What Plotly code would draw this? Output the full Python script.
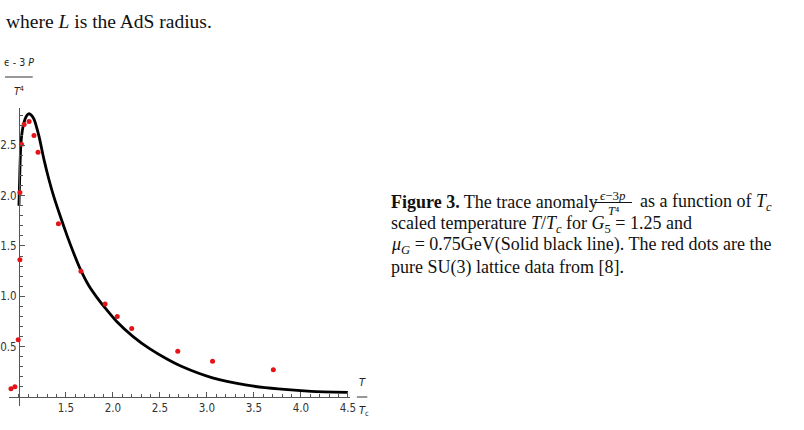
import plotly.graph_objects as go

W, H = 804, 430

# ---- data ----
lattice_x = [0.915, 0.957, 0.992, 1.01, 1.01, 1.027, 1.055, 1.108, 1.16, 1.203,
             1.42, 1.66, 1.917, 2.046, 2.20, 2.69, 3.06, 3.707]
lattice_y = [0.083, 0.103, 0.57, 1.364, 2.03, 2.51, 2.705, 2.735, 2.596, 2.43,
             1.72, 1.25, 0.925, 0.80, 0.68, 0.454, 0.355, 0.27]

curve_x = [1.0, 1.01, 1.02, 1.035, 1.055, 1.08, 1.108, 1.13, 1.16, 1.213, 1.266,
           1.319, 1.371, 1.442, 1.513, 1.582, 1.653, 1.741, 1.829, 1.93, 2.04,
           2.215, 2.39, 2.57, 2.74, 3.06, 3.41, 3.76, 4.11, 4.5]
curve_y = [1.90, 2.25, 2.50, 2.64, 2.73, 2.79, 2.815, 2.80, 2.76, 2.59, 2.36,
           2.16, 1.99, 1.79, 1.60, 1.43, 1.27, 1.11, 0.99, 0.87, 0.75,
           0.60, 0.48, 0.38, 0.30, 0.19, 0.12, 0.08, 0.057, 0.047]

x_ticks = [1.5, 2.0, 2.5, 3.0, 3.5, 4.0, 4.5]
y_ticks = [0.5, 1.0, 1.5, 2.0, 2.5]
x_tick_text = ["1.5", "2.0", "2.5", "3.0", "3.5", "4.0", "4.5"]
y_tick_text = ["0.5", "1.0", "1.5", "2.0", "2.5"]

x_range = [0.8935, 4.522]
y_range = [-0.089, 2.87]
axes_origin = (1.0, 0.0)

# ---- layout geometry (pixels) ----
plot_left, plot_right = 8, 352
plot_top, plot_bottom = 108, 406
x_dom = [plot_left / W, plot_right / W]
y_dom = [1 - plot_bottom / H, 1 - plot_top / H]

def px(fx):
    return fx / W

def py(fy):
    return 1 - fy / H

# axes crossing positions in paper coords
xaxis_pos = y_dom[0] + (axes_origin[1] - y_range[0]) / (y_range[1] - y_range[0]) * (y_dom[1] - y_dom[0])
yaxis_pos = x_dom[0] + (axes_origin[0] - x_range[0]) / (x_range[1] - x_range[0]) * (x_dom[1] - x_dom[0])

NARROW = "Liberation Sans Narrow, Arial Narrow, DejaVu Sans Condensed, sans-serif"
TICK_FONT = dict(family=NARROW, size=11.5, color="#333")
SERIF = "Liberation Serif, Times New Roman, serif"
AX_COL = "#555"

fig = go.Figure()
fig.add_trace(go.Scatter(x=curve_x, y=curve_y, mode="lines",
                         line=dict(color="black", width=2.8, shape="spline", smoothing=0.6),
                         cliponaxis=False, hoverinfo="skip"))
fig.add_trace(go.Scatter(x=lattice_x, y=lattice_y, mode="markers",
                         marker=dict(color="rgb(228,20,24)", size=5),
                         cliponaxis=False, hoverinfo="skip"))

axis_common = dict(showgrid=False, zeroline=False, showline=True, linecolor=AX_COL,
                   linewidth=1, ticks="inside", ticklen=5, tickcolor=AX_COL,
                   tickwidth=1, tickfont=TICK_FONT, tickmode="array",
                   anchor="free", fixedrange=True)

fig.update_layout(
    width=W, height=H, margin=dict(l=0, r=0, t=0, b=0),
    paper_bgcolor="white", plot_bgcolor="white", showlegend=False,
    xaxis=dict(domain=x_dom, range=x_range, position=xaxis_pos,
               tickvals=x_ticks, ticktext=x_tick_text,
               minor=dict(dtick=0.1, tick0=0, ticks="inside", ticklen=3,
                          tickcolor=AX_COL, tickwidth=1),
               **axis_common),
    yaxis=dict(domain=y_dom, range=y_range, position=yaxis_pos,
               tickvals=y_ticks, ticktext=y_tick_text,
               minor=dict(dtick=0.1, tick0=0, ticks="inside", ticklen=3,
                          tickcolor=AX_COL, tickwidth=1),
               **axis_common),
)

ann = []
def text(x, y, t, size, family=SERIF, xanchor="left", color="#111"):
    ann.append(dict(x=px(x), y=py(y), xref="paper", yref="paper", text=t,
                    showarrow=False, xanchor=xanchor, yanchor="middle",
                    font=dict(family=family, size=size, color=color)))

# top text
text(3, 22, "where <i>L</i> is the AdS radius.", 19.5)

# axis labels
text(18, 62, "ϵ - 3 <i>P</i>", 10.5, family=NARROW, xanchor="center", color="#222")
text(18, 91, "<i>T</i><sup>4</sup>", 10.5, family=NARROW, xanchor="center", color="#222")
text(365, 382, "<i>T</i>", 11, family=NARROW, xanchor="center", color="#222")
text(366.5, 411, "<i>T</i><sub>c</sub>", 11, family=NARROW, xanchor="center", color="#222")

# caption
CX = 391.5
CS = 18
text(CX, 202, "<b>Figure 3.</b> The trace anomaly", CS)
text(617.5, 195.5, "<i>ϵ</i>−3<i>p</i>", 13, xanchor="center")
text(618, 210.5, "<i>T</i>⁴", 12.5, xanchor="center")
text(643, 202, "as a function of <i>T<sub>c</sub></i>", CS)
text(CX, 224, "scaled temperature <i>T</i>/<i>T<sub>c</sub></i> for <i>G</i><sub>5</sub> = 1.25 and", CS)
text(CX, 245.5, "<i>μ<sub>G</sub></i> = 0.75GeV(Solid black line). The red dots are the", CS)
text(CX, 267, "pure SU(3) lattice data from [8].", CS)

fig.update_layout(annotations=ann)

shapes = [
    dict(type="line", xref="paper", yref="paper", x0=px(4), x1=px(32), y0=py(77), y1=py(77),
         line=dict(color="#333", width=1)),
    dict(type="line", xref="paper", yref="paper", x0=px(359), x1=px(369.5), y0=py(397), y1=py(397),
         line=dict(color="#333", width=1)),
    dict(type="line", xref="paper", yref="paper", x0=px(598.5), x1=px(636.5), y0=py(202.5), y1=py(202.5),
         line=dict(color="#111", width=1)),
]
fig.update_layout(shapes=shapes)

fig.write_html("out.html")
